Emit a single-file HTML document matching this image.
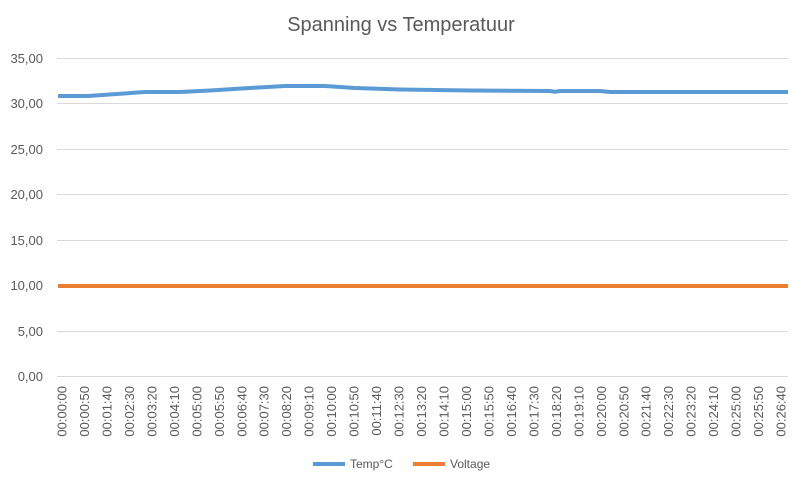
<!DOCTYPE html>
<html><head><meta charset="utf-8"><style>
body{margin:0;background:#fff;}
svg{display:block;font-family:"Liberation Sans",Arial,sans-serif;}
</style></head><body>
<svg width="798" height="478" viewBox="0 0 798 478">
<text x="401" y="31" text-anchor="middle" font-size="20" fill="#595959">Spanning vs Temperatuur</text>
<g stroke="#d9d9d9" stroke-width="1">
<line x1="57" x2="788" y1="58.5" y2="58.5"/>
<line x1="57" x2="788" y1="103.5" y2="103.5"/>
<line x1="57" x2="788" y1="149.5" y2="149.5"/>
<line x1="57" x2="788" y1="194.5" y2="194.5"/>
<line x1="57" x2="788" y1="240.5" y2="240.5"/>
<line x1="57" x2="788" y1="285.5" y2="285.5"/>
<line x1="57" x2="788" y1="331.5" y2="331.5"/>
<line x1="57" x2="788" y1="376.5" y2="376.5"/>
</g>
<g font-size="13" fill="#595959" text-anchor="end">
<text x="43" y="63">35,00</text>
<text x="43" y="108">30,00</text>
<text x="43" y="154">25,00</text>
<text x="43" y="199">20,00</text>
<text x="43" y="245">15,00</text>
<text x="43" y="290">10,00</text>
<text x="43" y="336">5,00</text>
<text x="43" y="381">0,00</text>
</g>
<polyline fill="none" stroke="#5b9bd5" stroke-width="4" stroke-linejoin="round" points="58,96 88,96 145,92 180,92 210,90.5 250,88 285,86 325,86 355,88 400,89.5 470,90.5 550,91 555,91.8 560,91 600,91 610,92 788,92"/>
<line x1="58" x2="788" y1="286" y2="286" stroke="#ed7d31" stroke-width="4"/>
<g id="lbl" font-size="13" fill="#595959" text-anchor="end"></g>
<line x1="313" x2="345" y1="464" y2="464" stroke="#5b9bd5" stroke-width="4"/>
<text x="350" y="468" font-size="12" fill="#595959">Temp°C</text>
<line x1="413" x2="445" y1="464" y2="464" stroke="#ed7d31" stroke-width="4"/>
<text x="450" y="468" font-size="12" fill="#595959">Voltage</text>
</svg>
<script>
var g=document.getElementById('lbl');
for(var k=0;k<33;k++){var s=k*50,m=Math.floor(s/60),sec=s%60;
var t='00:'+(m<10?'0':'')+m+':'+(sec<10?'0':'')+sec;
var x=62+k*22.47+4.5;
var e=document.createElementNS('http://www.w3.org/2000/svg','text');
e.setAttribute('transform','translate('+x.toFixed(1)+',386) rotate(-90)');
e.textContent=t;g.appendChild(e);}
</script>
</body></html>
